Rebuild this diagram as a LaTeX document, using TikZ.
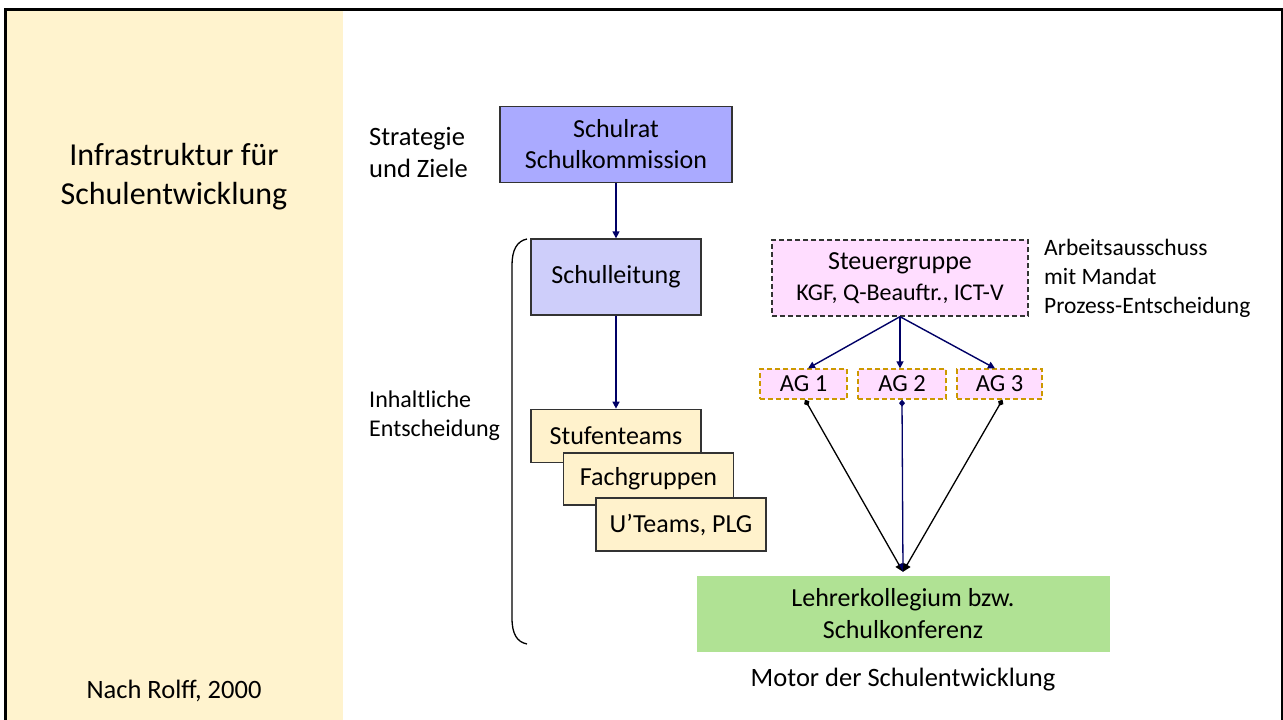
\documentclass[tikz,border=0pt]{standalone}
\usepackage{fontspec}
\setmainfont{Carlito}
\usetikzlibrary{arrows.meta,calc}
\definecolor{panelyellow}{RGB}{255,243,206}
\definecolor{teamyellow}{RGB}{255,242,204}
\definecolor{ratblue}{RGB}{170,170,255}
\definecolor{leitblue}{RGB}{206,206,250}
\definecolor{steuerpink}{RGB}{255,221,255}
\definecolor{agborder}{RGB}{204,153,0}
\definecolor{kollgreen}{RGB}{176,226,148}
\definecolor{navy}{RGB}{0,0,102}
\begin{document}
\begin{tikzpicture}[x=1pt,y=-1pt,
  txt/.style={font=\fontsize{26.5}{31.5}\selectfont, inner sep=0pt},
  box/.style={draw=black!80, line width=1.3pt, align=center, inner sep=0pt,
    font=\fontsize{26}{31}\selectfont},
  team/.style={box, fill=teamyellow, minimum width=170pt, minimum height=53pt},
  agbox/.style={draw=agborder, dash pattern=on 5pt off 3pt, line width=1.3pt,
    fill=steuerpink, minimum width=87pt, minimum height=30pt, inner sep=0pt,
    font=\fontsize{24.5}{28}\selectfont},
  arr/.style={draw=navy, line width=1.4pt, -{Triangle[length=7pt,width=7pt]}},
  feed/.style={line width=1.3pt, {Diamond[length=7pt,width=6pt]}-{Triangle[length=8pt,width=8pt]}},
]
\useasboundingbox (0,0) rectangle (1283,720);

% left title panel and frame
\fill[panelyellow] (6,10) rectangle (343,720);
\draw[line width=2.6pt] (5.3,720) -- (5.3,9.4) -- (1282,9.4) -- (1282,720);

\node[txt, font=\fontsize{32}{39}\selectfont, align=center] (title) at (174,176.5)
  {Infrastruktur für\\Schulentwicklung};
\node[txt] (source) at (174,691) {Nach Rolff, 2000};

% side labels
\node[txt, align=left, anchor=west] (strat) at (369,152.5) {Strategie\\und Ziele};
\node[txt, font=\fontsize{24}{29}\selectfont, align=left, anchor=west] (inhalt) at (369,416)
  {Inhaltliche\\Entscheidung};
\node[txt, font=\fontsize{23.5}{29}\selectfont, align=left, anchor=west] (mandat) at (1044,278)
  {Arbeitsausschuss\\mit Mandat\\Prozess-Entscheidung};

% left column
\node[box, fill=ratblue, minimum width=232pt, minimum height=76pt] (schulrat) at (616,144.5)
  {Schulrat\\Schulkommission};
\node[box, fill=leitblue, minimum width=170pt, minimum height=76pt] (schulleitung) at (616,277)
  {Schulleitung};
\node[team] (stufen) at (616,435.8) {Stufenteams};
\node[team, minimum height=52pt] (fach) at (648.5,479) {Fachgruppen};
\node[team] (uteams) at (681,524.5) {U’Teams, PLG};

% brace
\draw[line width=1.3pt] (527,239) .. controls (517,241) and (512,250) .. (512,265)
  -- (512,618) .. controls (512,634) and (517,642) .. (527,644);

% right column
\node[box, fill=steuerpink, dash pattern=on 5pt off 3pt, minimum width=256pt, minimum height=76pt]
  (steuer) at (900,278)
  {Steuergruppe\\\fontsize{24}{29}\selectfont KGF, Q-Beauftr., ICT-V};
\node[agbox] (ag1) at (803.5,384) {AG 1};
\node[agbox, minimum width=88pt] (ag2) at (902,384) {AG 2};
\node[agbox, minimum width=85pt] (ag3) at (999.5,384) {AG 3};

\node[fill=kollgreen, minimum width=413pt, minimum height=76pt, inner sep=0pt, align=center,
  font=\fontsize{26}{32}\selectfont] (kolleg) at (903,614)
  {Lehrerkollegium bzw.\\Schulkonferenz};
\node[txt] (motor) at (903,680) {Motor der Schulentwicklung};

% connectors
\draw[arr] (schulrat.south) -- (schulleitung.north);
\draw[arr] (schulleitung.south) -- (stufen.north);
\draw[arr] (steuer.south) -- ([xshift=4.5pt]ag1.north);
\draw[arr] (steuer.south) -- (steuer.south |- ag2.north);
\draw[arr] (steuer.south) -- ([xshift=-4.5pt]ag3.north);

\coordinate (meet) at ([yshift=4pt]kolleg.north);
\draw[feed] ([xshift=1.5pt]ag1.south) -- (meet);
\draw[feed, navy] (ag2.south) -- (meet);
\draw[feed] ([xshift=3pt]ag3.south) -- (meet);
\end{tikzpicture}
\end{document}
